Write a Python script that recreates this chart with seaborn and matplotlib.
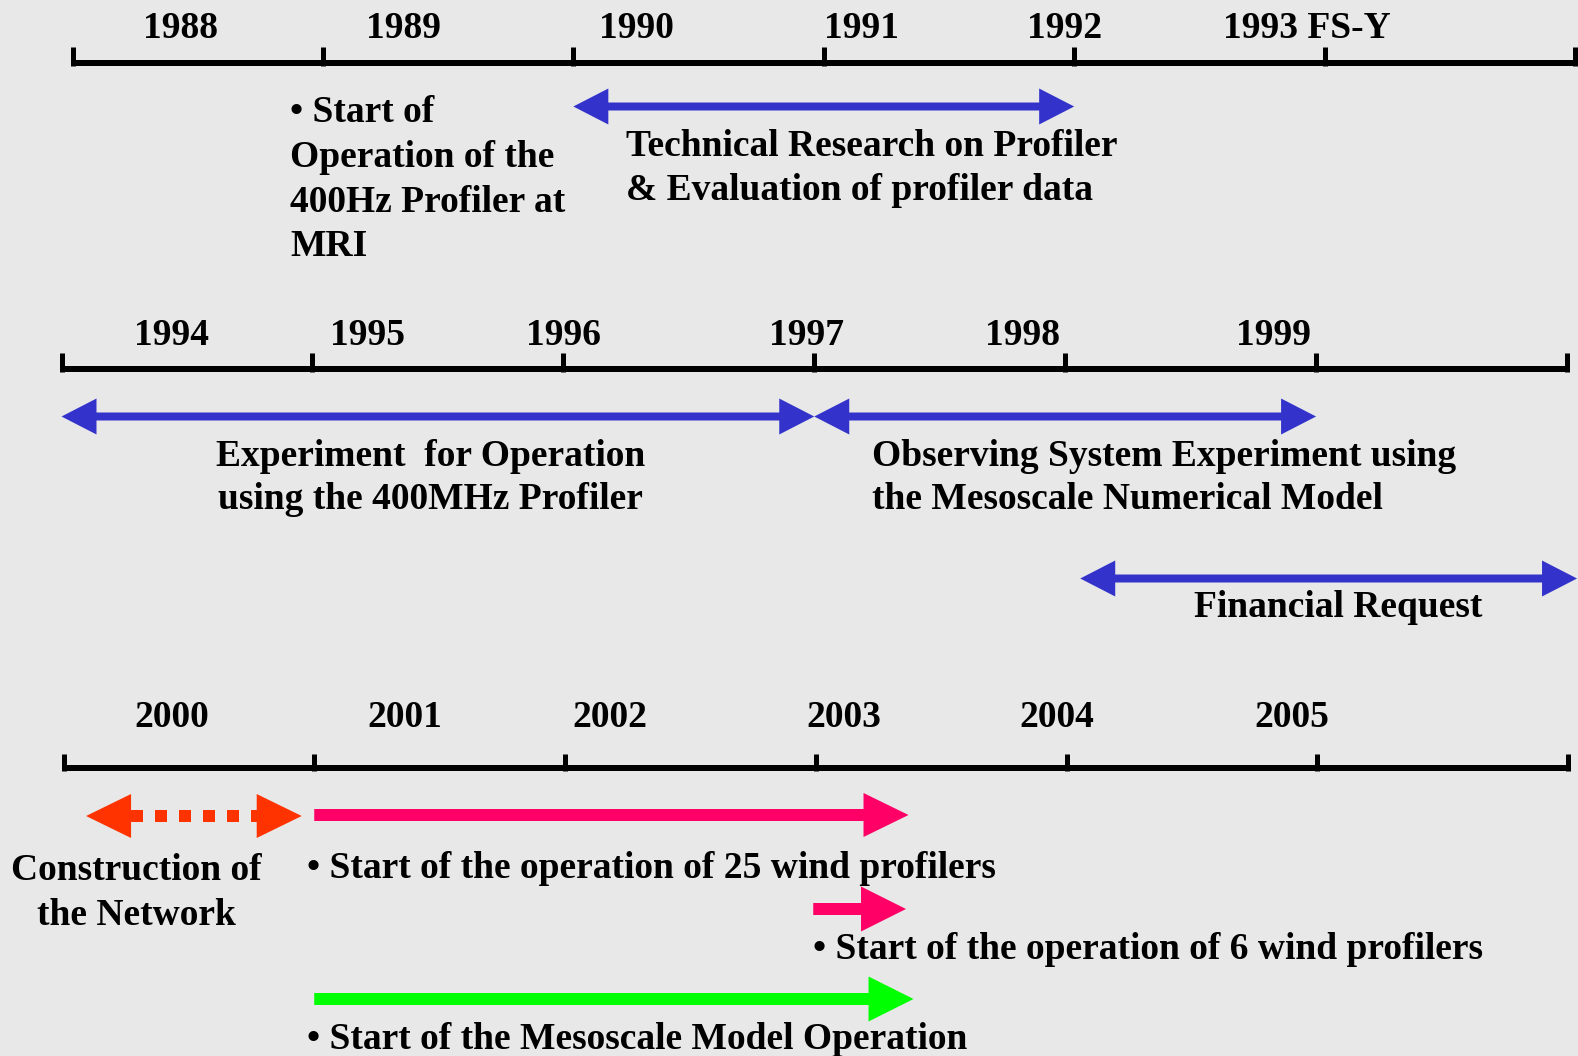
import matplotlib
matplotlib.use("Agg")
import matplotlib.pyplot as plt
from matplotlib.patches import FancyArrow
import pandas as pd
import seaborn as sns

# ---------------- data ----------------
row_years = [
    [1988, 1989, 1990, 1991, 1992, 1993],
    [1994, 1995, 1996, 1997, 1998, 1999],
    [2000, 2001, 2002, 2003, 2004, 2005],
]
row_year_labels = [
    ["1988", "1989", "1990", "1991", "1992", "1993 FS-Y"],
    ["1994", "1995", "1996", "1997", "1998", "1999"],
    ["2000", "2001", "2002", "2003", "2004", "2005"],
]

event_text = [
    "• Start of\nOperation of the\n400Hz Profiler at\nMRI",
    "Technical Research on Profiler\n& Evaluation of profiler data",
    "Experiment  for Operation\nusing the 400MHz Profiler",
    "Observing System Experiment using\nthe Mesoscale Numerical Model",
    "Financial Request",
    "Construction of\nthe Network",
    "• Start of the operation of 25 wind profilers",
    "• Start of the operation of 6 wind profilers",
    "• Start of the Mesoscale Model Operation",
]
event_row = [0, 0, 1, 1, 1, 2, 2, 2, 2]
event_start = [1989.0, 1990.0, 1994.0, 1997.0, 1998.06, 2000.09, 2001.0, 2002.99, 2001.0]
event_end = [None, 1992.0, 1997.0, 1999.0, 2000.04, 2000.95, 2003.37, 2003.36, 2003.39]
event_kind = ["note", "both", "both", "both", "both", "dotted", "end", "end", "end"]
event_color = ["black", "#3333cc", "#3333cc", "#3333cc", "#3333cc",
               "#ff3300", "#ff0066", "#ff0066", "#00ff00"]

# ---------------- layout (pixels) ----------------
W, H = 1578, 1056
BG = "#e8e8e8"
row_line = [(72.5, 1575, 62.5), (61.5, 1567, 368.5), (63.5, 1568, 768)]   # x start, x end, y
tick_top = [47, 353, 754]
year_baseline = [38, 345, 727]
year_shift = [[0.43, 0.32, 0.25, 0.15, -0.04, -0.07],
              [0.44, 0.22, 0.0, -0.03, -0.17, -0.17],
              [0.43, 0.36, 0.18, 0.11, -0.04, -0.10]]
lane_y = [None, 106.5, 416.5, 416.5, 578.5, 816, 815, 909, 999]
shaft_w = [0, 8, 8, 8, 8, 12, 12, 12, 12]
head_len = [0, 35, 35, 35, 35, 45, 45, 45, 45]
head_w = [0, 36, 36, 36, 36, 44, 44, 45, 45]
text_x = [1988.87, 1990.21, 1995.47, 1997.23, 1999.09, 2000.29, 2000.97, 2002.99, 2000.97]
text_ha = ["left", "left", "center", "left", "center", "center", "left", "left", "left"]
text_base = [122, 156, 466, 466, 617, 880, 878, 959, 1049]
line_gap = [44.8, 44.3, 43.3, 43.3, 44, 45.3, 44, 44, 44]

FS_BODY = 27
FS_YEAR = 27
FONT = dict(family=["Liberation Serif", "DejaVu Serif"], weight="bold", color="black")

sns.set_theme(style="white", rc={"axes.facecolor": "none", "figure.facecolor": BG})

fig = plt.figure(figsize=(W / 100, H / 100), dpi=100)
fig.patch.set_facecolor(BG)

axes = []
ppy_list = []
for r, years in enumerate(row_years):
    x0p, x1p, yline = row_line[r]
    n = len(years)
    ppy = (x1p - x0p) / n
    ppy_list.append(ppy)
    ax = fig.add_axes([0, 0, 1, 1])
    ax.set_xlim(years[0] - x0p / ppy, years[0] + (W - x0p) / ppy)
    ax.set_ylim(H, 0)
    ax.axis("off")
    axes.append(ax)

    # baseline
    df = pd.DataFrame({"year": [years[0], years[0] + n], "y": [yline, yline]})
    sns.lineplot(data=df, x="year", y="y", ax=ax, color="black", lw=6 * 0.72,
                 solid_capstyle="butt")
    # ticks at year boundaries
    bounds = years + [years[0] + n]
    ax.vlines(bounds, tick_top[r], yline + 3, color="black", lw=5 * 0.72)
    # year labels
    for yv, lab, sh in zip(years, row_year_labels[r], year_shift[r]):
        ax.text(yv + sh, year_baseline[r], lab, ha="center", va="baseline",
                fontsize=FS_YEAR, **FONT)


def arrow(ax, xa, xb, y, color, sw, hl, hw, ppy):
    a = FancyArrow(xa, y, xb - xa, 0, width=sw, head_width=hw, head_length=hl / ppy,
                   length_includes_head=True, color=color, lw=0)
    ax.add_patch(a)


for i in range(len(event_text)):
    r = event_row[i]
    ax = axes[r]
    ppy = ppy_list[r]
    kind = event_kind[i]
    c = event_color[i]
    y = lane_y[i]
    hl = head_len[i] / ppy
    if kind == "both":
        arrow(ax, event_start[i] + 0.8 * hl, event_end[i], y, c, shaft_w[i],
              head_len[i], head_w[i], ppy)
        arrow(ax, event_start[i] + hl, event_start[i], y, c, 0.01, head_len[i], head_w[i], ppy)
    elif kind == "end":
        arrow(ax, event_start[i], event_end[i], y, c, shaft_w[i], head_len[i], head_w[i], ppy)
    elif kind == "dotted":
        arrow(ax, event_start[i] + hl, event_start[i], y, c, 0.01, head_len[i], head_w[i], ppy)
        arrow(ax, event_end[i] - hl, event_end[i], y, c, 0.01, head_len[i], head_w[i], ppy)
        ax.plot([event_start[i] + hl, event_end[i] - hl], [y, y], color=c,
                lw=shaft_w[i] * 0.72, dashes=(1, 1), solid_capstyle="butt",
                dash_capstyle="butt")
    # text
    for k, line in enumerate(event_text[i].split("\n")):
        ax.text(text_x[i], text_base[i] + k * line_gap[i], line, ha=text_ha[i],
                va="baseline", fontsize=FS_BODY, **FONT)

fig.savefig("out.png", dpi=100, facecolor=BG)
